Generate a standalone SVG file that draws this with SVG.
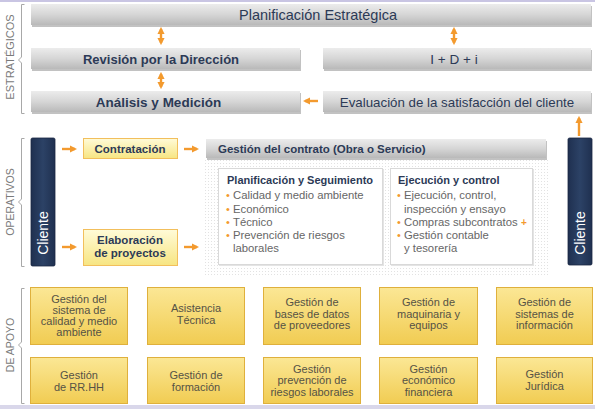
<svg xmlns="http://www.w3.org/2000/svg" width="595" height="409" viewBox="0 0 595 409">
<defs>
<linearGradient id="gGray" x1="0" y1="0" x2="0" y2="1">
<stop offset="0" stop-color="#ececec"/><stop offset="0.5" stop-color="#d6d6d6"/><stop offset="1" stop-color="#b9b9b9"/>
</linearGradient>
<linearGradient id="gNavy" x1="0" y1="0" x2="1" y2="0">
<stop offset="0" stop-color="#1f3050"/><stop offset="0.5" stop-color="#2c4266"/><stop offset="1" stop-color="#1f3050"/>
</linearGradient>
<linearGradient id="gLight" x1="0" y1="0" x2="0" y2="1">
<stop offset="0" stop-color="#fffbd8"/><stop offset="1" stop-color="#f7e582"/>
</linearGradient>
<linearGradient id="gYel" x1="0" y1="0" x2="0" y2="1">
<stop offset="0" stop-color="#fbe795"/><stop offset="1" stop-color="#f1cc52"/>
</linearGradient>
<pattern id="dots" width="3" height="3" patternUnits="userSpaceOnUse">
<rect x="1" y="1" width="1" height="1" fill="#e2e2e2"/>
</pattern>
<marker id="ah" viewBox="0 0 10 10" refX="7" refY="5" markerWidth="3" markerHeight="3" orient="auto-start-reverse">
<path d="M0,0 L10,5 L0,10 z" fill="#f39a2e"/>
</marker>
<style>
text{font-family:"Liberation Sans","DejaVu Sans",sans-serif}
.bar{fill:url(#gGray)}
.sh{fill:#8f8f8f;opacity:0.55}
.bt{fill:#2c3a56;font-size:13px;text-anchor:middle}
.b{font-weight:bold}
.sec{fill:#7a7a7a;font-size:10.5px;text-anchor:middle}
.br{fill:none;stroke:#a8a8a8;stroke-width:1}
.nav{fill:url(#gNavy);stroke:#1a2742;stroke-width:0.8}
.cl{fill:#ffffff;font-size:14px;text-anchor:middle}
.lt{fill:url(#gLight);stroke:#f2bf5c;stroke-width:1}
.yb{fill:url(#gYel);stroke:#dfb03c;stroke-width:1}
.yt{fill:#555245;font-size:11px;text-anchor:middle}
.wb{fill:#ffffff;stroke:#d9d9d9;stroke-width:1}
.wsh{fill:#e4e4e4}
.hd{fill:#2c3a56;font-size:11px;font-weight:bold}
.it{fill:#666666;font-size:11.3px}
.bu{fill:#f39a2e;font-size:11px}
.ar{stroke:#f39a2e;stroke-width:2.4;fill:none}
</style>
</defs>
<rect x="0" y="0" width="595" height="409" fill="#ffffff"/>
<rect x="0" y="0" width="595" height="2" fill="#c9c5e3"/>
<rect x="0" y="405" width="595" height="4" fill="#d9d7ea"/>

<!-- section labels and brackets -->
<g id="sec-estrategicos">
<path class="br" d="M24.5,4.5 H21.5 V57 L18.5,60 L21.5,63 V113.5 H24.5"/>
<text class="sec" transform="translate(14,57) rotate(-90)" style="font-size:11px">ESTRATÉGICOS</text>
</g>
<g id="sec-operativos">
<path class="br" d="M24.5,138.5 H21.5 V199 L18.5,202 L21.5,205 V266.5 H24.5"/>
<text class="sec" transform="translate(14,202) rotate(-90)">OPERATIVOS</text>
</g>
<g id="sec-apoyo">
<path class="br" d="M24.5,288.5 H21.5 V342 L18.5,345 L21.5,348 V403.5 H24.5"/>
<text class="sec" transform="translate(14,345) rotate(-90)">DE APOYO</text>
</g>

<!-- strategic -->
<g id="planificacion-estrategica">
<rect class="sh" x="32" y="6" width="560" height="21"/>
<rect class="bar" x="31" y="4" width="560" height="21"/>
<text class="bt" x="318" y="20" style="font-size:14.5px">Planificación Estratégica</text>
</g>
<g id="revision">
<rect class="sh" x="32" y="50" width="269" height="21"/>
<rect class="bar" x="31" y="48" width="269" height="21"/>
<text class="bt b" x="161" y="63.5">Revisión por la Dirección</text>
</g>
<g id="idi">
<rect class="sh" x="324" y="50" width="268" height="21"/>
<rect class="bar" x="323" y="48" width="268" height="21"/>
<text class="bt" x="454" y="63.5" style="font-size:13.5px">I + D + i</text>
</g>
<g id="analisis">
<rect class="sh" x="32" y="93" width="269" height="21"/>
<rect class="bar" x="31" y="91" width="269" height="21"/>
<text class="bt b" x="158.5" y="106.5" style="font-size:13.5px">Análisis y Medición</text>
</g>
<g id="evaluacion">
<rect class="sh" x="324" y="93" width="268" height="21"/>
<rect class="bar" x="323" y="91" width="268" height="21"/>
<text class="bt" x="457" y="106.5" style="font-size:13.3px">Evaluación de la satisfacción del cliente</text>
</g>

<!-- operative -->
<g id="cliente-izq">
<rect class="nav" x="31" y="138" width="24" height="128" rx="1.5"/>
<text class="cl" transform="translate(48,233) rotate(-90)">Cliente</text>
</g>
<g id="cliente-der">
<rect class="nav" x="568" y="138" width="24" height="127" rx="1.5"/>
<text class="cl" transform="translate(585,233) rotate(-90)">Cliente</text>
</g>
<g id="contratacion">
<rect class="lt" x="83.5" y="138.5" width="94" height="20"/>
<text class="bt b" x="130" y="152.5" style="font-size:11.5px">Contratación</text>
</g>
<g id="elaboracion">
<rect class="lt" x="83.5" y="229.5" width="94" height="36"/>
<text class="bt b" x="130" y="244" style="font-size:11.5px">Elaboración</text>
<text class="bt b" x="130" y="257" style="font-size:11.5px">de proyectos</text>
</g>
<g id="gestion-contrato">
<rect x="205" y="158" width="343" height="119" fill="url(#dots)"/>
<rect class="sh" x="207" y="141" width="340" height="19"/>
<rect class="bar" x="206" y="139" width="340" height="19"/>
<text class="bt b" x="218" y="152.5" style="text-anchor:start;font-size:11.5px">Gestión del contrato (Obra o Servicio)</text>
</g>
<g id="planificacion-seguimiento">
<rect class="wsh" x="219" y="169" width="165" height="97"/>
<rect class="wb" x="218.5" y="168.5" width="164" height="96"/>
<text class="hd" x="227" y="184">Planificación y Seguimiento</text>
<text class="bu" x="226" y="199">•</text><text class="it" x="233" y="199">Calidad y medio ambiente</text>
<text class="bu" x="226" y="212.5">•</text><text class="it" x="233" y="212.5">Económico</text>
<text class="bu" x="226" y="226">•</text><text class="it" x="233" y="226">Técnico</text>
<text class="bu" x="226" y="239">•</text><text class="it" x="233" y="239">Prevención de riesgos</text>
<text class="it" x="233" y="252">laborales</text>
</g>
<g id="ejecucion-control">
<rect class="wsh" x="391" y="169" width="143" height="97"/>
<rect class="wb" x="390.5" y="168.5" width="142" height="96"/>
<text class="hd" x="398" y="184">Ejecución y control</text>
<text class="bu" x="397" y="199">•</text><text class="it" x="404" y="199">Ejecución, control,</text>
<text class="it" x="404" y="212.5">inspección y ensayo</text>
<text class="bu" x="397" y="226">•</text><text class="it" x="404" y="226">Compras subcontratos</text>
<text class="bu" x="521" y="226" style="font-size:10px;font-weight:bold">+</text>
<text class="bu" x="397" y="239">•</text><text class="it" x="404" y="239">Gestión contable</text>
<text class="it" x="404" y="252">y tesorería</text>
</g>

<!-- support -->
<g id="apoyo-calidad">
<rect class="yb" x="30.5" y="287.5" width="97" height="57"/>
<text class="yt" x="79" y="303">Gestión del</text>
<text class="yt" x="79" y="314">sistema de</text>
<text class="yt" x="79" y="325">calidad y medio</text>
<text class="yt" x="79" y="336">ambiente</text>
</g>
<g id="apoyo-asistencia">
<rect class="yb" x="147.5" y="287.5" width="97" height="57"/>
<text class="yt" x="196" y="312">Asistencia</text>
<text class="yt" x="196" y="323.5">Técnica</text>
</g>
<g id="apoyo-proveedores">
<rect class="yb" x="263.5" y="287.5" width="97" height="57"/>
<text class="yt" x="312" y="306">Gestión de</text>
<text class="yt" x="312" y="317.5">bases de datos</text>
<text class="yt" x="312" y="329">de proveedores</text>
</g>
<g id="apoyo-maquinaria">
<rect class="yb" x="379.5" y="287.5" width="98" height="57"/>
<text class="yt" x="428.5" y="306">Gestión de</text>
<text class="yt" x="428.5" y="317.5">maquinaria y</text>
<text class="yt" x="428.5" y="329">equipos</text>
</g>
<g id="apoyo-sistemas">
<rect class="yb" x="496.5" y="287.5" width="96" height="57"/>
<text class="yt" x="544.5" y="306">Gestión de</text>
<text class="yt" x="544.5" y="317.5">sistemas de</text>
<text class="yt" x="544.5" y="329">información</text>
</g>
<g id="apoyo-rrhh">
<rect class="yb" x="30.5" y="357.5" width="97" height="46"/>
<text class="yt" x="79" y="379">Gestión</text>
<text class="yt" x="79" y="390.5">de RR.HH</text>
</g>
<g id="apoyo-formacion">
<rect class="yb" x="147.5" y="357.5" width="97" height="46"/>
<text class="yt" x="196" y="379">Gestión de</text>
<text class="yt" x="196" y="390.5">formación</text>
</g>
<g id="apoyo-prevencion">
<rect class="yb" x="263.5" y="357.5" width="97" height="46"/>
<text class="yt" x="312" y="372.5">Gestión</text>
<text class="yt" x="312" y="384">prevención de</text>
<text class="yt" x="312" y="395.5">riesgos laborales</text>
</g>
<g id="apoyo-economico">
<rect class="yb" x="379.5" y="357.5" width="98" height="46"/>
<text class="yt" x="428.5" y="372.5">Gestión</text>
<text class="yt" x="428.5" y="384">económico</text>
<text class="yt" x="428.5" y="395.5">financiera</text>
</g>
<g id="apoyo-juridica">
<rect class="yb" x="496.5" y="357.5" width="96" height="46"/>
<text class="yt" x="544.5" y="378">Gestión</text>
<text class="yt" x="544.5" y="389.5">Jurídica</text>
</g>

<!-- connectors -->
<g id="connectors">
<line class="ar" x1="161" y1="29" x2="161" y2="43" marker-start="url(#ah)" marker-end="url(#ah)"/>
<line class="ar" x1="161" y1="74" x2="161" y2="87" marker-start="url(#ah)" marker-end="url(#ah)"/>
<line class="ar" x1="454" y1="29" x2="454" y2="43" marker-start="url(#ah)" marker-end="url(#ah)"/>
<line class="ar" x1="318" y1="101" x2="305" y2="101" marker-end="url(#ah)"/>
<line class="ar" x1="579" y1="136" x2="579" y2="118" marker-end="url(#ah)"/>
<line class="ar" x1="62" y1="149" x2="75" y2="149" marker-end="url(#ah)"/>
<line class="ar" x1="184" y1="149" x2="197" y2="149" marker-end="url(#ah)"/>
<line class="ar" x1="62" y1="247" x2="75" y2="247" marker-end="url(#ah)"/>
<line class="ar" x1="184" y1="247" x2="197" y2="247" marker-end="url(#ah)"/>
</g>
</svg>
